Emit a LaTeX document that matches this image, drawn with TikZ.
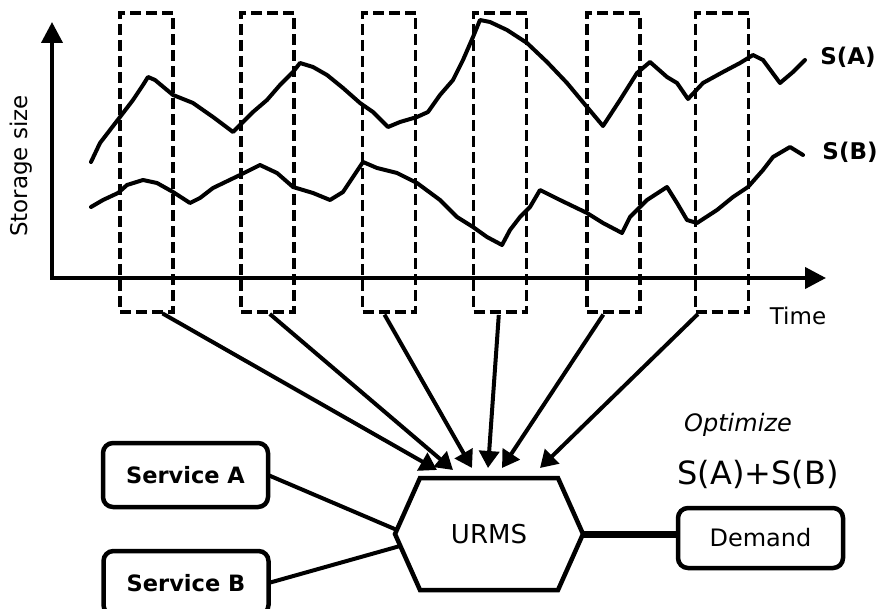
\documentclass[tikz,border=0pt]{standalone}
\usepackage{fontspec}
\setmainfont{DejaVu Sans}
\usetikzlibrary{arrows.meta}
\begin{document}
\begin{tikzpicture}[x=1pt,y=-1pt,
  curve/.style={line width=4pt, line join=round, line cap=round},
  window/.style={draw, dash pattern=on 11pt off 5pt, line width=3.6pt,
    minimum width=53pt, minimum height=299pt, inner sep=0pt, outer sep=0pt},
  axis/.style={line width=4pt, -{Triangle[length=21pt,width=21pt]}},
  feed/.style={line width=4pt, shorten <=3pt, -{Triangle[length=17pt,width=20pt]}},
  box/.style={draw, line width=4.5pt, rounded corners=10pt, inner sep=0pt, outer sep=0pt,
    minimum width=165pt},
  svc/.style={box, minimum height=64pt, font=\fontsize{22.5}{26}\selectfont\bfseries},
  link/.style={line width=4pt},
  lbl/.style={inner sep=0pt, font=\fontsize{23}{27}\selectfont}]
\useasboundingbox (0,0) rectangle (882,609);

% axes
\coordinate (origin) at (52,278);
\coordinate (ytop) at (52,22);
\coordinate (xend) at (826,278);
\draw[axis] ([yshift=2pt]origin) -- (ytop);
\draw[axis] ([xshift=-2pt]origin) -- (xend);
\node[lbl, rotate=90] (ylab) at (21,166) {Storage size};
\node[lbl] (xlab) at (798,316) {Time};

% storage curves
\draw[curve] (91,162) -- (100,143) -- (110,130) -- (120,117) -- (133,100) -- (143,85) -- (148,77) -- (155,80) -- (173,95) -- (193,103) -- (213,117) -- (233,132) -- (240,125) -- (253,112) -- (267,100) -- (280,85) -- (293,72) -- (300,63) -- (313,67) -- (327,75) -- (343,88) -- (360,103) -- (373,112) -- (388,127) -- (400,122) -- (417,117) -- (428,112) -- (440,95) -- (453,80) -- (463,60) -- (473,37) -- (480,20) -- (490,22) -- (507,30) -- (527,43) -- (547,62) -- (567,83) -- (587,107) -- (603,126) -- (620,100) -- (637,73) -- (650,62) -- (667,77) -- (677,83) -- (688,99) -- (703,83) -- (723,72) -- (740,63) -- (753,55) -- (763,60) -- (780,83) -- (793,72) -- (805,60);
\draw[curve] (91,207) -- (103,200) -- (118,193) -- (127,185) -- (143,180) -- (157,183) -- (173,192) -- (190,203) -- (200,198) -- (213,188) -- (240,175) -- (260,165) -- (277,173) -- (293,187) -- (313,193) -- (330,200) -- (343,192) -- (363,162) -- (377,168) -- (397,173) -- (417,183) -- (440,200) -- (457,217) -- (473,227) -- (487,237) -- (502,245) -- (510,230) -- (520,217) -- (530,207) -- (540,190) -- (560,200) -- (587,213) -- (603,223) -- (622,233) -- (630,217) -- (647,200) -- (667,187) -- (677,203) -- (687,220) -- (697,223) -- (717,210) -- (733,197) -- (748,187) -- (763,170) -- (773,157) -- (790,147) -- (803,155);
\node[inner sep=0pt, font=\fontsize{23}{26}\selectfont\bfseries] (sa) at (848,57) {S(A)};
\node[inner sep=0pt, font=\fontsize{23}{26}\selectfont\bfseries] (sb) at (850,152) {S(B)};

% sampling windows
\node[window] (w1) at (146.5,162.5) {};
\node[window] (w2) at (267.5,162.5) {};
\node[window] (w3) at (389,162.5) {};
\node[window] (w4) at (500,162.5) {};
\node[window] (w5) at (613.5,162.5) {};
\node[window] (w6) at (722,162.5) {};

% resource manager
\node[minimum width=188pt, minimum height=112pt, inner sep=0pt, outer sep=0pt,
  font=\fontsize{26}{30}\selectfont] (urms) at (489,534) {URMS};
\draw[line width=4.5pt, line join=miter]
  ([xshift=25pt]urms.north west) -- ([xshift=-25pt]urms.north east) -- (urms.east)
  -- ([xshift=-25pt]urms.south east) -- ([xshift=25pt]urms.south west) -- (urms.west) -- cycle;

% arrow targets above the manager
\coordinate (t1) at (437,470);
\coordinate (t2) at (453,470);
\coordinate (t3) at (472,468);
\coordinate (t4) at (488,468);
\coordinate (t5) at (502,468);
\coordinate (t6) at (540,468);
\draw[feed] ([xshift=13.5pt]w1.south) -- (t1);
\draw[feed] (w2.south) -- (t2);
\draw[feed] ([xshift=-6pt]w3.south) -- (t3);
\draw[feed] ([xshift=-1pt]w4.south) -- (t4);
\draw[feed] ([xshift=-8.5pt]w5.south) -- (t5);
\draw[feed] ([xshift=-22pt]w6.south) -- (t6);

% services and demand
\node[svc] (sva) at (185.5,475) {Service A};
\node[svc] (svb) at (186,583) {Service B};
\node[box, minimum height=60pt, font=\fontsize{24}{28}\selectfont] (dem) at (760.5,538) {Demand};
\draw[link] (sva.east) -- ([xshift=2pt,yshift=4pt]urms.west);
\draw[link] (svb.east) -- ([xshift=5pt,yshift=-12pt]urms.west);
\draw[line width=7pt] (urms.east) -- (urms.east -| dem.west);

\node[inner sep=0pt, font=\fontsize{24}{28}\selectfont\itshape] (opt) at (738,425) {Optimize};
\node[inner sep=0pt, font=\fontsize{32}{36}\selectfont] (sum) at (758,474) {S(A)+S(B)};
\end{tikzpicture}
\end{document}
